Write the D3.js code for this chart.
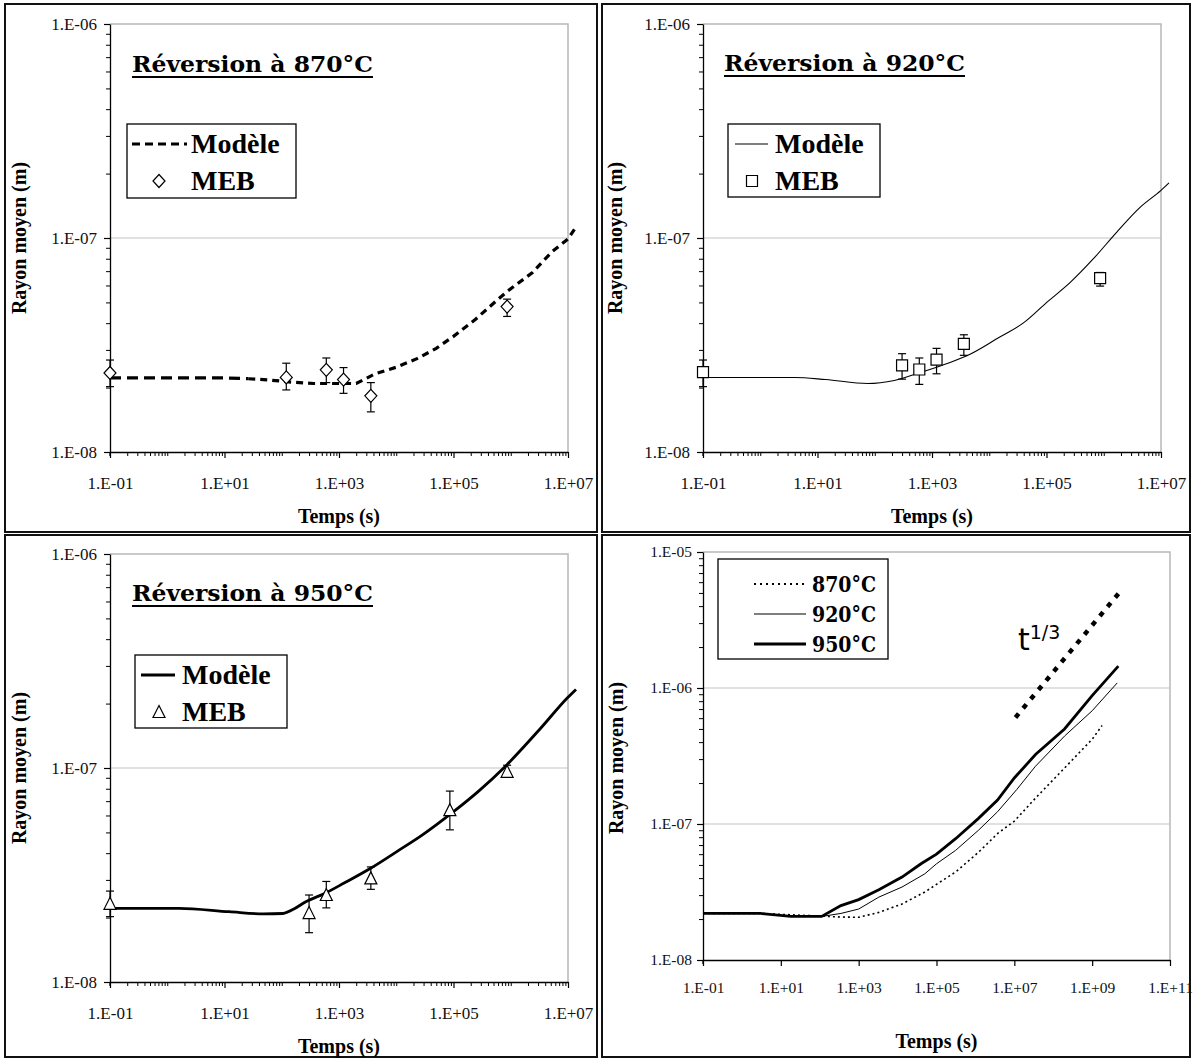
<!DOCTYPE html>
<html>
<head>
<meta charset="utf-8">
<script src="https://cdn.jsdelivr.net/npm/d3@7"></script>
<style>
  html, body { margin: 0; padding: 0; background: #fff; }
  svg { display: block; }
</style>
</head>
<body>
<script>
// ---------------- DATA ----------------
const xTickLabelsA = ["1.E-01", "1.E+01", "1.E+03", "1.E+05", "1.E+07"];
const yTickLabelsA = ["1.E-08", "1.E-07", "1.E-06"];
const xTickLabelsB = ["1.E-01", "1.E+01", "1.E+03", "1.E+05", "1.E+07", "1.E+09", "1.E+11"];
const yTickLabelsB = ["1.E-08", "1.E-07", "1.E-06", "1.E-05"];

const titles = ["Réversion à 870°C", "Réversion à 920°C", "Réversion à 950°C"];
const legendModel = "Modèle";
const legendMeb = "MEB";
const xTitle = "Temps (s)";
const yTitle = "Rayon moyen (m)";
const overviewLegend = ["870°C", "920°C", "950°C"];
const slopeLabel = "t";
const slopeSup = "1/3";

// Panel 1 : 870°C
const model870_t = [0.1, 1, 10, 26, 60, 150, 360, 1000, 2000, 4300, 1e4, 2.3e4, 5e4, 1e5, 2.4e5, 6e5, 9e5, 2.4e6, 5.2e6, 1e7, 1.3e7];
const model870_r = [2.22e-8, 2.22e-8, 2.22e-8, 2.2e-8, 2.17e-8, 2.12e-8, 2.09e-8, 2.09e-8, 2.09e-8, 2.32e-8, 2.49e-8, 2.73e-8, 3.05e-8, 3.47e-8, 4.16e-8, 5.17e-8, 5.67e-8, 6.9e-8, 8.6e-8, 9.9e-8, 1.1e-7];
const meb870_t = [0.1, 120, 600, 1200, 3600, 864000];
const meb870_r = [2.34e-8, 2.23e-8, 2.42e-8, 2.18e-8, 1.83e-8, 4.78e-8];
const meb870_hi = [2.69e-8, 2.6e-8, 2.75e-8, 2.48e-8, 2.11e-8, 5.18e-8];
const meb870_lo = [2.02e-8, 1.95e-8, 2.11e-8, 1.88e-8, 1.54e-8, 4.3e-8];

// Panel 2 : 920°C
const model920_t = [0.1, 1, 4, 14, 75, 220, 650, 1900, 4800, 1.4e4, 3.9e4, 1e5, 2.6e5, 6.6e5, 1.66e6, 4.3e6, 1e7, 1.38e7];
const model920_r = [2.23e-8, 2.23e-8, 2.23e-8, 2.18e-8, 2.09e-8, 2.16e-8, 2.36e-8, 2.6e-8, 2.88e-8, 3.4e-8, 4.0e-8, 4.99e-8, 6.2e-8, 8.0e-8, 1.06e-7, 1.39e-7, 1.67e-7, 1.81e-7];
const meb920_t = [0.1, 300, 600, 1200, 3600, 864000];
const meb920_r = [2.36e-8, 2.54e-8, 2.43e-8, 2.7e-8, 3.2e-8, 6.5e-8];
const meb920_hi = [2.69e-8, 2.88e-8, 2.75e-8, 3.05e-8, 3.53e-8, 6.9e-8];
const meb920_lo = [2.02e-8, 2.19e-8, 2.07e-8, 2.32e-8, 2.83e-8, 5.96e-8];

// Panel 3 : 950°C
const model950_t = [0.1, 1.6, 12, 48, 105, 166, 263, 575, 1230, 3630, 1.07e4, 2.75e4, 1e5, 2.75e5, 8.1e5, 3.3e6, 9.8e6, 1.38e7];
const model950_r = [2.21e-8, 2.21e-8, 2.13e-8, 2.08e-8, 2.09e-8, 2.2e-8, 2.37e-8, 2.6e-8, 2.9e-8, 3.41e-8, 4.1e-8, 4.83e-8, 6.25e-8, 7.8e-8, 1.02e-7, 1.53e-7, 2.13e-7, 2.33e-7];
const meb950_t = [0.1, 300, 600, 3600, 86400, 864000];
const meb950_r = [2.32e-8, 2.1e-8, 2.55e-8, 3.05e-8, 6.35e-8, 9.6e-8];
const meb950_hi = [2.66e-8, 2.55e-8, 2.95e-8, 3.45e-8, 7.8e-8, 1.03e-7];
const meb950_lo = [2.02e-8, 1.7e-8, 2.22e-8, 2.71e-8, 5.14e-8, 9.2e-8];

// Panel 4 : overview
const ov870_t = [0.1, 3, 18, 112, 350, 1000, 3300, 1.3e4, 5e4, 1e5, 3.1e5, 1.2e6, 3.7e6, 1e7, 3.5e7, 1.95e8, 1e9, 1.8e9];
const ov870_r = [2.2e-8, 2.2e-8, 2.15e-8, 2.1e-8, 2.07e-8, 2.06e-8, 2.24e-8, 2.58e-8, 3.16e-8, 3.6e-8, 4.44e-8, 6.2e-8, 8.5e-8, 1.05e-7, 1.55e-7, 2.58e-7, 4.2e-7, 5.3e-7];
const ov920_t = [0.1, 3, 18, 112, 350, 1000, 3300, 1.3e4, 5e4, 1e5, 3.1e5, 1.2e6, 3.7e6, 1.15e7, 3.5e7, 1.95e8, 1e9, 4.4e9];
const ov920_r = [2.2e-8, 2.2e-8, 2.09e-8, 2.09e-8, 2.2e-8, 2.37e-8, 2.9e-8, 3.44e-8, 4.3e-8, 5.1e-8, 6.4e-8, 9.0e-8, 1.23e-7, 1.79e-7, 2.66e-7, 4.43e-7, 6.8e-7, 1.09e-6];
const ov950_t = [0.1, 3, 18, 112, 350, 1000, 3300, 1.3e4, 4e4, 1e5, 3.1e5, 1.2e6, 3.7e6, 1e7, 3.5e7, 1.95e8, 1e9, 4.7e9];
const ov950_r = [2.2e-8, 2.2e-8, 2.09e-8, 2.09e-8, 2.51e-8, 2.78e-8, 3.28e-8, 4.07e-8, 5.1e-8, 6.0e-8, 7.8e-8, 1.1e-7, 1.5e-7, 2.18e-7, 3.24e-7, 5.0e-7, 8.8e-7, 1.45e-6];
const slope_t = [1.07e7, 5.5e9];
const slope_r = [6.07e-7, 5.2e-6];

// ---------------- DRAWING ----------------
const W = 1196, H = 1059;
const SERIF = "'Liberation Serif', 'Times New Roman', serif";
const GEO = "'DejaVu Serif', Georgia, serif";

const svg = d3.select("body").append("svg").attr("width", W).attr("height", H);
svg.append("rect").attr("width", W).attr("height", H).attr("fill", "#fff");

// Panel frames
const frames = [[5, 4, 592, 528], [602, 4, 588, 528], [5, 535, 592, 522], [602, 535, 588, 522]];
svg.selectAll("rect.frame").data(frames).join("rect").attr("class", "frame")
  .attr("x", d => d[0]).attr("y", d => d[1]).attr("width", d => d[2]).attr("height", d => d[3])
  .attr("fill", "none").attr("stroke", "#111").attr("stroke-width", 2);

function minorVals(d0, d1) {
  const out = [];
  for (let e = d0; e < d1; e++) {
    for (let k = 2; k <= 9; k++) out.push(k * Math.pow(10, e));
  }
  return out;
}

function makePanel(p) {
  const g = svg.append("g");
  const x = d3.scaleLog().domain(p.xDom).range([p.left, p.left + p.w]);
  const y = d3.scaleLog().domain(p.yDom).range([p.top + p.h, p.top]);
  p.grid.forEach(v => {
    g.append("line").attr("x1", p.left).attr("x2", p.left + p.w)
      .attr("y1", y(v)).attr("y2", y(v)).attr("stroke", "#c4c4c4").attr("stroke-width", 1.2);
  });
  g.append("path").attr("d", `M${p.left},${p.top}H${p.left + p.w}V${p.top + p.h}`)
    .attr("fill", "none").attr("stroke", "#b8b8b8").attr("stroke-width", 1.5);

  const xMajor = p.xLabels.map(Number);
  const yMajor = p.yLabels.map(Number);

  if (p.xMinor.length) {
    g.append("g").attr("transform", `translate(0,${p.top + p.h})`)
      .call(d3.axisBottom(x).tickValues(p.xMinor).tickFormat("").tickSizeInner(4).tickSizeOuter(0))
      .call(a => a.select(".domain").remove())
      .selectAll("line").attr("stroke", "#000");
  }
  g.append("g").attr("transform", `translate(${p.left},0)`)
    .call(d3.axisLeft(y).tickValues(p.yMinor).tickFormat("").tickSizeInner(4).tickSizeOuter(0))
    .call(a => a.select(".domain").remove())
    .selectAll("line").attr("stroke", "#000");

  const xa = g.append("g").attr("transform", `translate(0,${p.top + p.h})`)
    .call(d3.axisBottom(x).tickValues(xMajor).tickFormat((d, i) => p.xLabels[i])
      .tickSizeInner(6).tickSizeOuter(0).tickPadding(p.xPad));
  const ya = g.append("g").attr("transform", `translate(${p.left},0)`)
    .call(d3.axisLeft(y).tickValues(yMajor).tickFormat((d, i) => p.yLabels[i])
      .tickSizeInner(6).tickSizeOuter(0).tickPadding(p.yPad));
  [xa, ya].forEach(a => {
    a.select(".domain").attr("stroke", "#000").attr("stroke-width", 1.3);
    a.selectAll("line").attr("stroke", "#000").attr("stroke-width", 1.2);
    a.selectAll("text").attr("font-family", SERIF).attr("font-size", p.fs).attr("fill", "#111");
  });
  g.append("line").attr("x1", p.left).attr("x2", p.left).attr("y1", p.top + p.h).attr("y2", p.top + p.h + 4)
    .attr("stroke", "#000").attr("stroke-width", 1.3);

  g.append("text").attr("x", p.left + p.w / 2).attr("y", p.xTitleY).attr("text-anchor", "middle")
    .attr("font-family", SERIF).attr("font-weight", "bold").attr("font-size", 20).text(xTitle);
  g.append("text").attr("transform", `translate(${p.yTitleX},${p.yTitleC}) rotate(-90)`)
    .attr("text-anchor", "middle")
    .attr("font-family", SERIF).attr("font-weight", "bold").attr("font-size", 20).text(yTitle);
  return { g, x, y };
}

function shapePath(shape) {
  if (shape === "diamond") return "M0,-6.5L6,0L0,6.5L-6,0Z";
  if (shape === "square") return "M-5.5,-5.5H5.5V5.5H-5.5Z";
  return "M0,-6.5L6,5.5H-6Z";
}

function drawMeb(g, x, y, t, r, lo, hi, shape) {
  const pts = t.map((d, i) => ({ t: d, r: r[i], lo: lo[i], hi: hi[i] }));
  const eb = g.append("g").attr("stroke", "#000").attr("stroke-width", 1.2);
  pts.forEach(d => {
    const cx = x(d.t);
    eb.append("line").attr("x1", cx).attr("x2", cx).attr("y1", y(d.hi)).attr("y2", y(d.lo));
    eb.append("line").attr("x1", cx - 4).attr("x2", cx + 4).attr("y1", y(d.hi)).attr("y2", y(d.hi));
    eb.append("line").attr("x1", cx - 4).attr("x2", cx + 4).attr("y1", y(d.lo)).attr("y2", y(d.lo));
  });
  g.append("g").selectAll("path").data(pts).join("path")
    .attr("transform", d => `translate(${x(d.t)},${y(d.r)})`)
    .attr("d", shapePath(shape))
    .attr("fill", "#fff").attr("stroke", "#000").attr("stroke-width", 1.2);
}

const line = (x, y) => d3.line().x(d => x(d[0])).y(d => y(d[1]));
const zip = (a, b) => a.map((d, i) => [d, b[i]]);

function titleText(g, tx, ty, text) {
  g.append("text").attr("x", tx).attr("y", ty)
    .attr("font-family", GEO).attr("font-weight", "bold").attr("font-size", 22)
    .attr("textLength", 241).attr("lengthAdjust", "spacingAndGlyphs").text(text);
  g.append("line").attr("x1", tx).attr("x2", tx + 241).attr("y1", ty + 5).attr("y2", ty + 5)
    .attr("stroke", "#000").attr("stroke-width", 2);
}

function legend(g, box, ls, shape) {
  g.append("rect").attr("x", box[0]).attr("y", box[1]).attr("width", box[2]).attr("height", box[3])
    .attr("fill", "#fff").attr("stroke", "#000").attr("stroke-width", 1.3);
  const ly = box[1] + 20;
  const my = box[1] + 57;
  g.append("line").attr("x1", box[0] + ls.x0).attr("x2", box[0] + ls.x1)
    .attr("y1", ly).attr("y2", ly).attr("stroke", "#000")
    .attr("stroke-width", ls.w).attr("stroke-dasharray", ls.dash || null);
  g.append("text").attr("x", box[0] + ls.tx).attr("y", ly + 9)
    .attr("font-family", SERIF).attr("font-weight", "bold").attr("font-size", 28).text(legendModel);
  g.append("path").attr("transform", `translate(${box[0] + ls.mx},${my})`).attr("d", shapePath(shape))
    .attr("fill", "#fff").attr("stroke", "#000").attr("stroke-width", 1.2);
  g.append("text").attr("x", box[0] + ls.tx).attr("y", my + 9)
    .attr("font-family", SERIF).attr("font-weight", "bold").attr("font-size", 28).text(legendMeb);
}

const commonA = {
  w: 458, h: 428, xDom: [0.1, 1e7], yDom: [1e-8, 1e-6],
  xLabels: xTickLabelsA, yLabels: yTickLabelsA,
  xMinor: minorVals(-1, 7).concat([1, 100, 1e4, 1e6]),
  yMinor: minorVals(-8, -6), grid: [1e-7], fs: 17, xPad: 19, yPad: 7
};

// Panel 1
{
  const p = makePanel(Object.assign({}, commonA, { left: 110, top: 24, xTitleY: 523, yTitleX: 26, yTitleC: 238 }));
  const pts = zip(model870_t, model870_r);
  const split = model870_t.indexOf(26);
  p.g.append("path").datum(pts.slice(0, split + 1)).attr("d", line(p.x, p.y))
    .attr("fill", "none").attr("stroke", "#000").attr("stroke-width", 3.2).attr("stroke-dasharray", "11,6");
  p.g.append("path").datum(pts.slice(split)).attr("d", line(p.x, p.y))
    .attr("fill", "none").attr("stroke", "#000").attr("stroke-width", 3.2).attr("stroke-dasharray", "7,5");
  drawMeb(p.g, p.x, p.y, meb870_t, meb870_r, meb870_lo, meb870_hi, "diamond");
  titleText(p.g, 132, 72, titles[0]);
  legend(p.g, [127, 124, 169, 74], { x0: 5, x1: 60, w: 3.2, dash: "8,5", tx: 64, mx: 32 }, "diamond");
}
// Panel 2
{
  const p = makePanel(Object.assign({}, commonA, { left: 703, top: 24, xTitleY: 523, yTitleX: 622, yTitleC: 238 }));
  p.g.append("path").datum(zip(model920_t, model920_r)).attr("d", line(p.x, p.y).curve(d3.curveMonotoneX))
    .attr("fill", "none").attr("stroke", "#000").attr("stroke-width", 1.1);
  drawMeb(p.g, p.x, p.y, meb920_t, meb920_r, meb920_lo, meb920_hi, "square");
  titleText(p.g, 724, 71, titles[1]);
  legend(p.g, [728, 124, 152, 73], { x0: 7, x1: 40, w: 1.1, tx: 47, mx: 24 }, "square");
}
// Panel 3
{
  const p = makePanel(Object.assign({}, commonA, { left: 110, top: 554, xTitleY: 1053, yTitleX: 26, yTitleC: 768 }));
  p.g.append("path").datum(zip(model950_t, model950_r)).attr("d", line(p.x, p.y).curve(d3.curveMonotoneX))
    .attr("fill", "none").attr("stroke", "#000").attr("stroke-width", 2.8);
  drawMeb(p.g, p.x, p.y, meb950_t, meb950_r, meb950_lo, meb950_hi, "triangle");
  titleText(p.g, 132, 601, titles[2]);
  legend(p.g, [135, 655, 152, 73], { x0: 6, x1: 40, w: 2.8, tx: 47, mx: 24 }, "triangle");
}
// Panel 4
{
  const p = makePanel({
    left: 703, top: 552, w: 467, h: 408, xDom: [0.1, 1e11], yDom: [1e-8, 1e-5],
    xLabels: xTickLabelsB, yLabels: yTickLabelsB, xMinor: [],
    yMinor: minorVals(-8, -5), grid: [1e-7, 1e-6], fs: 15.5, xPad: 16, yPad: 5,
    xTitleY: 1048, yTitleX: 623, yTitleC: 758
  });
  const L = line(p.x, p.y);
  p.g.append("path").datum(zip(ov870_t, ov870_r)).attr("d", L)
    .attr("fill", "none").attr("stroke", "#000").attr("stroke-width", 1.6).attr("stroke-dasharray", "2,3");
  p.g.append("path").datum(zip(ov920_t, ov920_r)).attr("d", L)
    .attr("fill", "none").attr("stroke", "#000").attr("stroke-width", 1);
  p.g.append("path").datum(zip(ov950_t, ov950_r)).attr("d", L)
    .attr("fill", "none").attr("stroke", "#000").attr("stroke-width", 2.8);
  p.g.append("path").datum(zip(slope_t, slope_r)).attr("d", L)
    .attr("fill", "none").attr("stroke", "#000").attr("stroke-width", 4.5).attr("stroke-dasharray", "5,7");
  const st = p.g.append("text").attr("x", 1018).attr("y", 650)
    .attr("font-family", "'DejaVu Sans', Verdana, sans-serif").attr("font-size", 30);
  st.append("tspan").text(slopeLabel);
  st.append("tspan").attr("dy", -11).attr("font-size", 19).text(slopeSup);

  p.g.append("rect").attr("x", 718).attr("y", 559).attr("width", 170).attr("height", 100)
    .attr("fill", "#fff").attr("stroke", "#000").attr("stroke-width", 1.3);
  const ls = [{ w: 2, dash: "2,4" }, { w: 1, dash: null }, { w: 3, dash: null }];
  overviewLegend.forEach((lab, i) => {
    const ly = 584 + i * 30;
    p.g.append("line").attr("x1", 754).attr("x2", 806).attr("y1", ly).attr("y2", ly)
      .attr("stroke", "#000").attr("stroke-width", ls[i].w).attr("stroke-dasharray", ls[i].dash);
    p.g.append("text").attr("x", 812).attr("y", ly + 8)
      .attr("font-family", GEO).attr("font-weight", "bold").attr("font-size", 22)
      .attr("textLength", 64).attr("lengthAdjust", "spacingAndGlyphs").text(lab);
  });
}
</script>
</body>
</html>
